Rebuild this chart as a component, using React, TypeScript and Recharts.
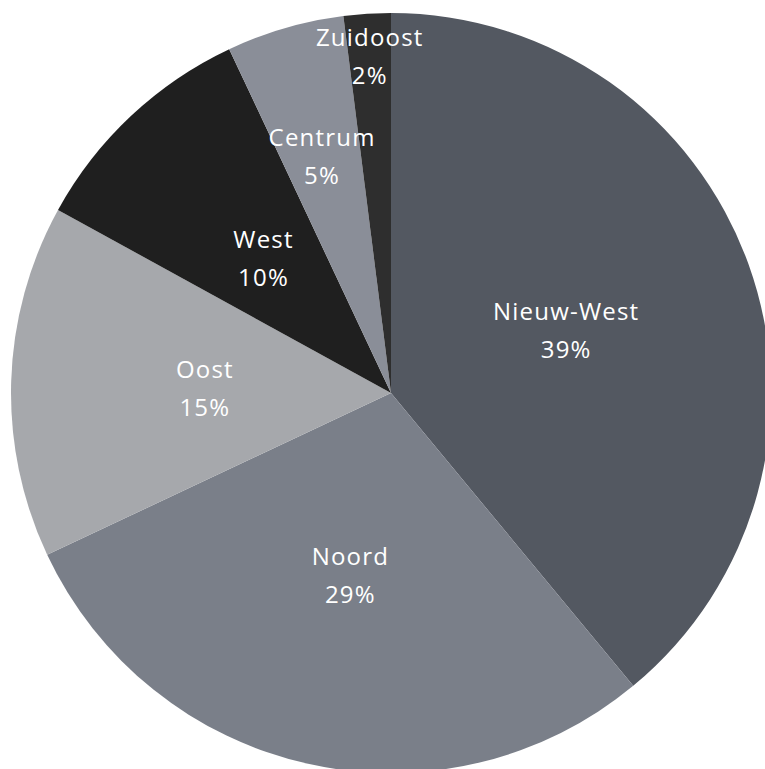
import React from 'react';
import { PieChart, Pie, Cell } from 'recharts';

const districts = ['Nieuw-West', 'Noord', 'Oost', 'West', 'Centrum', 'Zuidoost'];
const shares = [39, 29, 15, 10, 5, 2];
const colors = ['#535861', '#7a7f89', '#a6a8ac', '#1f1f1f', '#8a8e98', '#2e2e2e'];

const data = districts.map((name, i) => ({ name, value: shares[i] }));

const RAD = Math.PI / 180;

// small slices get their label pushed outward, like the original
const labelFraction = (pct: number) => (pct >= 10 ? 0.49 : pct >= 5 ? 0.65 : 0.89);

const renderLabel = (props: any) => {
  const { cx, cy, midAngle, outerRadius, value, name } = props;
  const r = outerRadius * labelFraction(value);
  const x = cx + r * Math.cos(-midAngle * RAD);
  const y = cy + r * Math.sin(-midAngle * RAD);
  return (
    <text
      x={x}
      y={y}
      fill="#ffffff"
      textAnchor="middle"
      fontSize={24}
      letterSpacing={1.2}
      fontFamily="'Open Sans', sans-serif"
    >
      <tspan x={x} y={y - 19} dominantBaseline="central">{name}</tspan>
      <tspan x={x} y={y + 19} dominantBaseline="central">{`${value}%`}</tspan>
    </text>
  );
};

const App: React.FC = () => {
  return (
    <div style={{ position: 'fixed', left: 0, top: 0, width: 765, height: 769, background: '#fff' }}>
      <PieChart width={765} height={769} margin={{ top: 0, right: 0, bottom: 0, left: 0 }}>
        <Pie
          data={data}
          dataKey="value"
          nameKey="name"
          cx={391}
          cy={393}
          outerRadius={380}
          startAngle={90}
          endAngle={-270}
          stroke="none"
          label={renderLabel}
          labelLine={false}
          isAnimationActive={false}
        >
          {data.map((d, i) => (
            <Cell key={d.name} fill={colors[i]} />
          ))}
        </Pie>
      </PieChart>
    </div>
  );
};

export default App;
